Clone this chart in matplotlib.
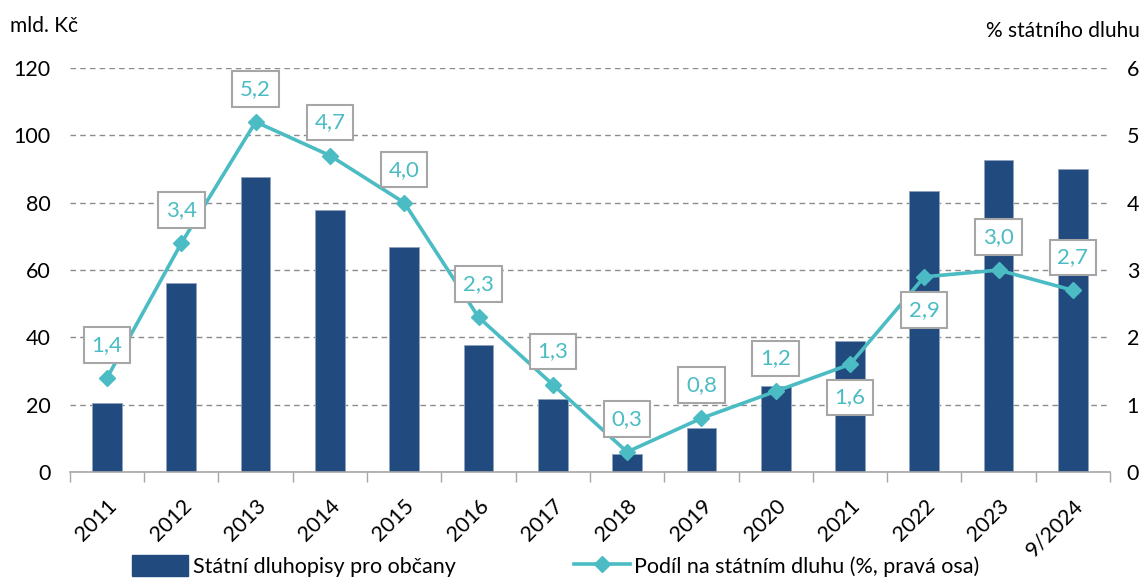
import numpy as np
import matplotlib.pyplot as plt
from matplotlib.lines import Line2D
from matplotlib.patches import Patch

plt.rcParams['font.family'] = ['Lato', 'DejaVu Sans']

# Data
years = ['2011', '2012', '2013', '2014', '2015', '2016', '2017',
         '2018', '2019', '2020', '2021', '2022', '2023', '9/2024']
bonds = [20.4, 56.2, 87.5, 77.8, 66.9, 37.7, 21.6, 5.3, 13.0, 25.6, 38.9, 83.4, 92.7, 89.9]
share = [1.4, 3.4, 5.2, 4.7, 4.0, 2.3, 1.3, 0.3, 0.8, 1.2, 1.6, 2.9, 3.0, 2.7]
below = ['2021', '2022']   # labels drawn under the marker

bar_col = '#214A7E'
line_col = '#4BBCC4'

fig = plt.figure(figsize=(11.46, 5.88), dpi=100)
ax = fig.add_axes([0.061, 0.197, 0.9076, 0.6874])
x = np.arange(len(years))

ax.bar(x, bonds, width=0.4, color=bar_col, edgecolor='#8FA3BF', linewidth=0.6, zorder=2)
ax.set_ylim(0, 120)
ax.set_xlim(-0.5, len(years) - 0.5)
ax.set_yticks(range(0, 121, 20))
ax.yaxis.grid(True, linestyle=(0, (4, 3)), color='#8C8C8C', linewidth=1.0, zorder=0)
ax.set_axisbelow(True)

for s in ['top', 'left', 'right']:
    ax.spines[s].set_visible(False)
ax.spines['bottom'].set_color('#A6A6A6')
ax.spines['bottom'].set_linewidth(1.2)

# category boundary ticks
ax.set_xticks(np.arange(-0.5, len(years)), minor=True)
ax.tick_params(axis='x', which='minor', length=7, color='#A6A6A6', width=1.0)
ax.set_xticks(x)
ax.set_xticklabels(years, rotation=45, ha='right', rotation_mode='anchor', fontsize=15.5)
ax.tick_params(axis='x', which='major', length=0, pad=17)
ax.tick_params(axis='y', length=0, labelsize=15.5, pad=14)

ax2 = ax.twinx()
ax2.set_ylim(0, 6)
ax2.set_yticks(range(0, 7))
for s in ['top', 'left', 'right', 'bottom']:
    ax2.spines[s].set_visible(False)
ax2.tick_params(axis='y', length=0, labelsize=15.5, pad=12)
ax2.plot(x, share, color=line_col, linewidth=2.6, marker='D', markersize=8, zorder=3)

for xi, yr, v in zip(x, years, share):
    off = -33 if yr in below else 33
    ax2.annotate(f'{v:.1f}'.replace('.', ','), (xi, v), xytext=(0, off),
                 textcoords='offset pixels',
                 ha='center', va='center', fontsize=16, color=line_col,
                 bbox=dict(boxstyle='square,pad=0.35', fc='white', ec='#A6A6A6', lw=1.5),
                 zorder=5)

fig.text(0.009, 0.955, 'mld. Kč', fontsize=15, ha='left', va='center')
fig.text(0.995, 0.948, '% státního dluhu', fontsize=15, ha='right', va='center')

handles = [Patch(facecolor=bar_col, edgecolor=bar_col),
           Line2D([0], [0], color=line_col, linewidth=2.6, marker='D', markersize=8)]
fig.legend(handles, ['Státní dluhopisy pro občany', 'Podíl na státním dluhu (%, pravá osa)'],
           loc='lower center', bbox_to_anchor=(0.485, -0.014), ncol=2, frameon=False,
           fontsize=15.5, handlelength=2.6, handleheight=1.1, handletextpad=0.2,
           columnspacing=5.5)

fig.savefig('out.png', dpi=100)
